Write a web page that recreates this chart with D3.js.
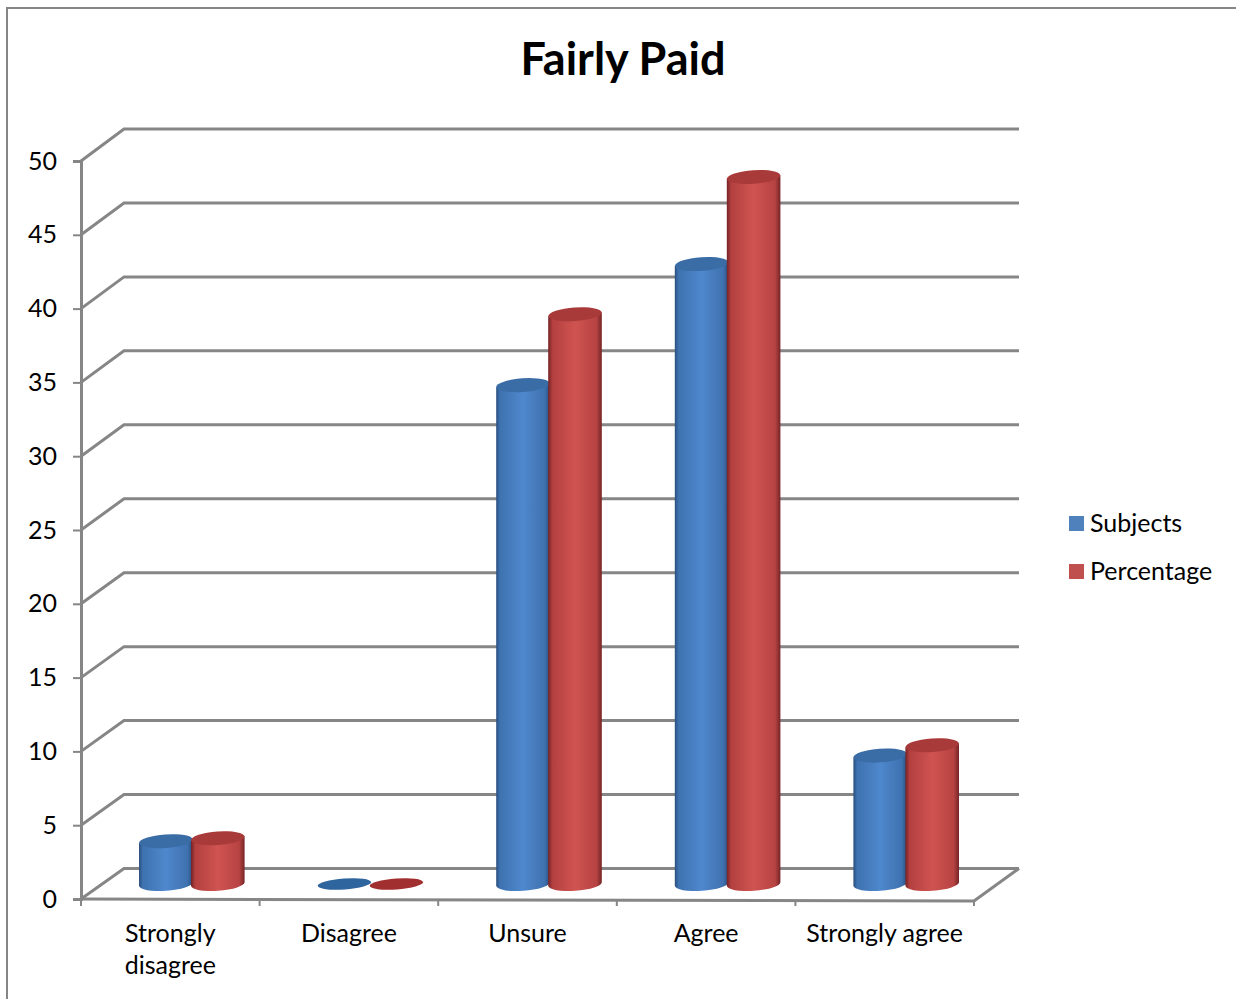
<!DOCTYPE html>
<html><head><meta charset="utf-8">
<script src="https://cdn.jsdelivr.net/npm/d3@7"></script>
<style>html,body{margin:0;padding:0;background:#fff;overflow:hidden}svg{display:block}
text{font-family:Lato,"Noto Sans",sans-serif;fill:#000}</style></head>
<body><div id="c"></div>
<script>
const categories=["Strongly disagree","Disagree","Unsure","Agree","Strongly agree"];
const categoryLines=[["Strongly","disagree"],["Disagree"],["Unsure"],["Agree"],["Strongly agree"]];
const subjects=[2.9,0,33.8,42,8.7];
const percentage=[3.1,0,38.6,47.9,9.4];
const seriesNames=["Subjects","Percentage"];
const yTicks=[0,5,10,15,20,25,30,35,40,45,50];

const W=1236,H=999,grey="#868686";
const svg=d3.select("#c").append("svg").attr("width",W).attr("height",H);
const defs=svg.append("defs");
const grads=[
 {id:"gb",stops:[["0","#2a4f7e"],["0.07","#3e72b0"],["0.5","#4f88cd"],["0.9","#3f72b0"],["1","#294f7e"]],top:"#3a6ca6",flat:"#2f659f"},
 {id:"gr",stops:[["0","#752226"],["0.08","#b3403f"],["0.5","#cf5451"],["0.9","#b74342"],["1","#752426"]],top:"#a93a3a",flat:"#a22f30"}
];
grads.forEach(g=>{
  const lg=defs.append("linearGradient").attr("id",g.id).attr("x1",0).attr("x2",1).attr("y1",0).attr("y2",0);
  g.stops.forEach(s=>lg.append("stop").attr("offset",s[0]).attr("stop-color",s[1]));
});

// frame
svg.append("path").attr("d",`M${W},8H7V${H}`).attr("fill","none").attr("stroke",grey).attr("stroke-width",2);

svg.append("text").attr("x",623).attr("y",75).attr("text-anchor","middle")
  .attr("font-size",45).attr("font-weight",700).text("Fairly Paid");

const x=d3.scaleBand().domain(categories).range([81,974]);
const y=d3.scaleLinear().domain([0,50]).range([899,161]);
const backY=d3.scaleLinear().domain([0,50]).range([868.5,129]);
const depthX=43;
const backRight=1019;

// walls
const grid=svg.append("g").attr("fill","none").attr("stroke",grey).attr("stroke-width",3);
grid.selectAll("path").data(yTicks).join("path")
  .attr("d",v=>`M81,${y(v)}L${81+depthX},${backY(v)}H${backRight}`);
// floor
svg.append("path").attr("d",`M${backRight},${backY(0)}L974,${y(0)+2}L81,${y(0)}`)
  .attr("fill","none").attr("stroke",grey).attr("stroke-width",3);

// axes
const yAxis=d3.axisLeft(y).tickValues(yTicks).tickSize(8).tickPadding(16);
const gy=svg.append("g").attr("transform","translate(81,0)").call(yAxis);
gy.select(".domain").attr("stroke",grey).attr("stroke-width",3);
gy.selectAll(".tick line").attr("stroke",grey).attr("stroke-width",2);
gy.selectAll(".tick text").attr("font-size",25).attr("font-family",'Lato,"Noto Sans",sans-serif').attr("fill","#000");

const xAxisG=svg.append("g");
xAxisG.selectAll("line").data(d3.range(categories.length+1)).join("line")
  .attr("x1",i=>81+i*x.bandwidth()).attr("x2",i=>81+i*x.bandwidth())
  .attr("y1",i=>y(0)+i*0.4).attr("y2",906).attr("stroke",grey).attr("stroke-width",2);
const lab=svg.append("g").attr("text-anchor","middle").attr("font-size",25);
categories.forEach((c,i)=>{
  const t=lab.append("text").attr("x",x(c)+x.bandwidth()/2).attr("y",942);
  categoryLines[i].forEach((l,k)=>t.append("tspan").attr("x",x(c)+x.bandwidth()/2).attr("dy",k?32:0).text(l));
});

// cylinders
const rx=26.8,ry=6.8,tilt=-4,tanShift=rx*Math.sin(4*Math.PI/180);
const baseOffset=-15;
function cyl(g,cx,v,grad){
  const base=y(0)+baseOffset, top=y(v)+baseOffset;
  if(v>0){
    g.append("path").attr("d",
      `M${cx-rx},${top+tanShift}L${cx-rx},${base+tanShift}`+
      `A${rx},${ry} ${tilt} 0 0 ${cx+rx},${base-tanShift}`+
      `L${cx+rx},${top-tanShift}Z`).attr("fill",`url(#${grad.id})`);
    g.append("ellipse").attr("cx",cx).attr("cy",top).attr("rx",rx).attr("ry",ry)
      .attr("transform",`rotate(${tilt} ${cx} ${top})`).attr("fill",grad.top);
  } else {
    g.append("ellipse").attr("cx",cx).attr("cy",base).attr("rx",rx).attr("ry",5.4)
      .attr("transform",`rotate(${tilt} ${cx} ${base})`).attr("fill",grad.flat);
  }
}
const bars=svg.append("g");
categories.forEach((c,i)=>{
  const mid=x(c)+x.bandwidth()/2+21;
  cyl(bars,mid-25.5,subjects[i],grads[0]);
  cyl(bars,mid+26.5,percentage[i],grads[1]);
});

// legend
const legendColors=["#4f81bd","#c0504d"];
const leg=svg.append("g");
seriesNames.forEach((n,i)=>{
  const ly=516+i*48;
  leg.append("rect").attr("x",1069).attr("y",ly).attr("width",15).attr("height",15).attr("fill",legendColors[i]);
  leg.append("text").attr("x",1090).attr("y",ly+16).attr("font-size",25).text(n);
});
</script></body></html>
